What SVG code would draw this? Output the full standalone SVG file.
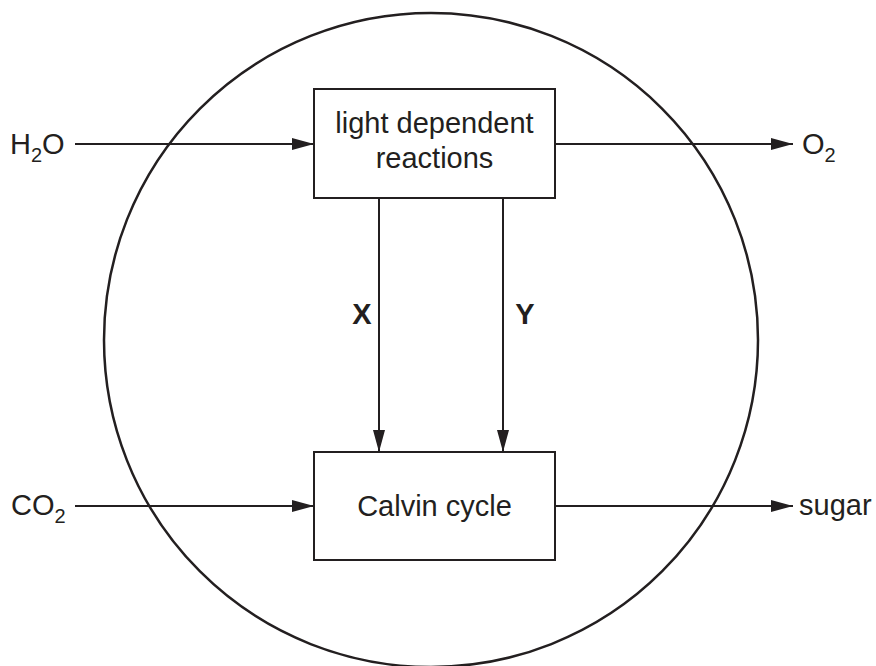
<svg xmlns="http://www.w3.org/2000/svg" width="876" height="666" viewBox="0 0 876 666">
<style>
.ln{stroke:#231f20;stroke-width:2;fill:none}
.bx{stroke:#231f20;stroke-width:2;fill:#fff}
.t{font-family:"Liberation Sans",Arial,sans-serif;font-size:29px;fill:#231f20}
.b{font-weight:bold}
.s{font-size:20px}
</style>
<defs>
<marker id="ah" markerWidth="22" markerHeight="12" refX="22" refY="6" orient="auto" markerUnits="userSpaceOnUse">
<path d="M0,0 L22,6 L0,12 Z" fill="#231f20"/>
</marker>
</defs>
<rect width="876" height="666" fill="#fff"/>
<g id="chloroplast"><circle cx="431" cy="340" r="327" fill="none" stroke="#231f20" stroke-width="2.5"/></g>
<g id="connectors">
<line class="ln" x1="75" y1="144" x2="314" y2="144" marker-end="url(#ah)"/>
<line class="ln" x1="555" y1="144" x2="793" y2="144" marker-end="url(#ah)"/>
<line class="ln" x1="75" y1="506" x2="314" y2="506" marker-end="url(#ah)"/>
<line class="ln" x1="555" y1="506" x2="793" y2="506" marker-end="url(#ah)"/>
<line class="ln" x1="379" y1="198" x2="379" y2="452" marker-end="url(#ah)"/>
<line class="ln" x1="503" y1="198" x2="503" y2="452" marker-end="url(#ah)"/>
<text class="t b" x="362" y="324" text-anchor="middle">X</text>
<text class="t b" x="525" y="324" text-anchor="middle">Y</text>
</g>
<g id="light">
<rect class="bx" x="314" y="89" width="241" height="109"/>
<text class="t" x="434.5" y="133" text-anchor="middle">light dependent</text>
<text class="t" x="434.5" y="168" text-anchor="middle">reactions</text>
</g>
<g id="calvin">
<rect class="bx" x="314" y="452" width="241" height="108"/>
<text class="t" x="434.5" y="516" text-anchor="middle">Calvin cycle</text>
</g>
<g id="h2o"><text class="t" x="10" y="154">H<tspan class="s" dy="8">2</tspan><tspan dy="-8">O</tspan></text></g>
<g id="o2"><text class="t" x="802" y="154">O<tspan class="s" dy="8">2</tspan></text></g>
<g id="co2"><text class="t" x="11" y="515">CO<tspan class="s" dy="8">2</tspan></text></g>
<g id="sugar"><text class="t" x="799" y="515">sugar</text></g>
</svg>
